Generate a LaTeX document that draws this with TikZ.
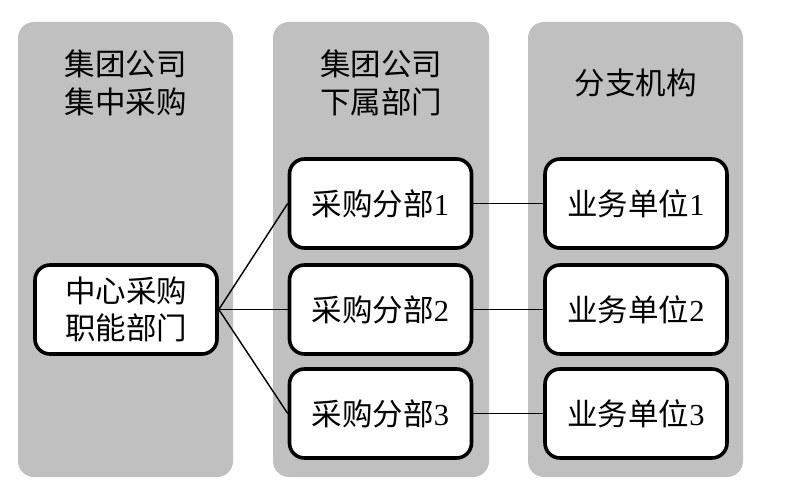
\documentclass[tikz,border=0pt]{standalone}
\usepackage{fontspec}
\setmainfont{Liberation Serif}
\newfontfamily\cjk{Noto Sans CJK SC}
\definecolor{colgray}{RGB}{192,192,192}
\begin{document}
\begin{tikzpicture}[x=1pt,y=-1pt,
  colbg/.style={fill=colgray, rounded corners=16pt},
  box/.style={draw=black, line width=3.6pt, fill=white, rounded corners=15pt,
    minimum width=182pt, minimum height=89pt, inner sep=0pt, align=center,
    font=\fontsize{30.5}{37}\selectfont},
  head/.style={align=center, font=\fontsize{30.5}{38}\selectfont\cjk},
  link/.style={line width=1.4pt}]
\useasboundingbox (0,0) rectangle (786,481);
\fill[white] (0,0) rectangle (786,481);
% columns
\fill[colbg] (18,22) rectangle (233,477);
\fill[colbg] (273,22) rectangle (489,477);
\fill[colbg] (528,22) rectangle (743,477);
% headers
\node[head] (h1) at (125.5,83) {集团公司\\集中采购};
\node[head] (h2) at (381,83) {集团公司\\下属部门};
\node[head] (h3) at (635.5,83) {分支机构};
% boxes
\node[box] (c) at (126,309.5) {\cjk 中心采购\\\cjk 职能部门};
\node[box] (b1) at (380.5,203.5) {{\cjk 采购分部}1};
\node[box] (b2) at (380.5,309.5) {{\cjk 采购分部}2};
\node[box] (b3) at (380.5,413.5) {{\cjk 采购分部}3};
\node[box] (u1) at (636,203.5) {{\cjk 业务单位}1};
\node[box] (u2) at (636,309.5) {{\cjk 业务单位}2};
\node[box] (u3) at (636,413.5) {{\cjk 业务单位}3};
% connectors
\draw[link] (c.east) -- (b1.west);
\draw[link] (c.east) -- (b2.west);
\draw[link] (c.east) -- (b3.west);
\draw[link] (b1.east) -- (u1.west);
\draw[link] (b2.east) -- (u2.west);
\draw[link] (b3.east) -- (u3.west);
\end{tikzpicture}
\end{document}
